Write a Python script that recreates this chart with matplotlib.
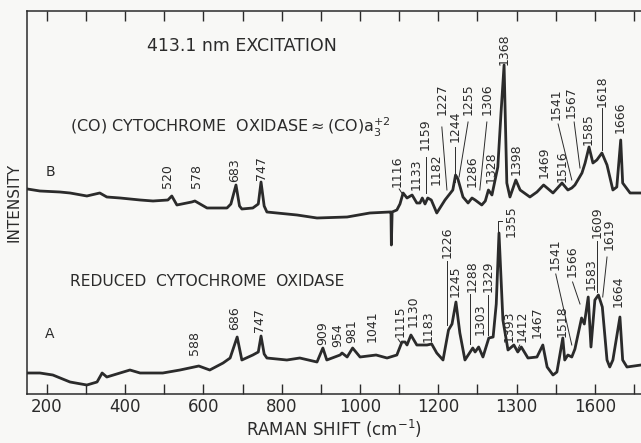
import matplotlib.pyplot as plt

# -----------------------------
# Spectrum B: (CO) cytochrome oxidase
# -----------------------------
shift_b = [150, 182, 233, 259, 302, 335, 353, 387, 438, 471, 509, 519, 532, 570,
           578, 609, 660, 670, 683, 692, 698, 726, 740, 747, 755, 762, 839, 890,
           967, 1025, 1076, 1079, 1080, 1082, 1094, 1102, 1110, 1120, 1133, 1145,
           1153, 1159, 1166, 1173, 1182, 1196, 1217, 1237, 1244, 1250, 1263, 1276,
           1286, 1294, 1311, 1320, 1328, 1337, 1352, 1360, 1368, 1375, 1383, 1398,
           1409, 1434, 1452, 1469, 1493, 1516, 1531, 1541, 1549, 1567, 1575, 1585,
           1595, 1605, 1618, 1631, 1646, 1656, 1666, 1671, 1690, 1718]
int_b = [205, 203, 202, 201, 198, 201, 197, 196, 194, 193, 194, 198, 189, 192,
         193, 186, 186, 190, 209, 188, 185, 186, 190, 212, 188, 182, 179, 176,
         177, 181, 182, 182, 149, 182, 184, 190, 201, 196, 199, 191,
         191, 196, 190, 196, 194, 181, 194, 204, 219, 215, 197, 191,
         196, 194, 189, 193, 204, 199, 227, 280, 329, 211, 197, 214,
         204, 197, 202, 209, 201, 211, 204, 206, 209, 221, 231, 247,
         231, 234, 241, 229, 204, 207, 254, 211, 201, 201]

# -----------------------------
# Spectrum A: reduced cytochrome oxidase
# -----------------------------
shift_a = [150, 182, 215, 259, 302, 328, 341, 353, 412, 438, 496, 540, 588, 616,
           650, 668, 686, 698, 726, 740, 747, 755, 762, 813, 846, 890, 905, 915,
           949, 954, 967, 981, 1000, 1041, 1069, 1094, 1107, 1115, 1120, 1130,
           1145, 1171, 1183, 1196, 1212, 1226, 1235, 1245, 1255, 1268, 1288, 1294,
           1303, 1314, 1329, 1340, 1348, 1355, 1365, 1378, 1393, 1403, 1412, 1429,
           1452, 1467, 1478, 1493, 1503, 1518, 1523, 1531, 1541, 1549, 1566, 1573,
           1583, 1590, 1600, 1609, 1619, 1631, 1638, 1646, 1664, 1671, 1682, 1718]
int_a = [21, 21, 19, 12, 9, 12, 21, 17, 24, 21, 21, 24, 28, 24,
         31, 36, 57, 34, 39, 42, 58, 40, 36, 34, 36, 32, 46, 34,
         39, 41, 37, 46, 37, 39, 36, 39, 52, 52, 49, 59,
         49, 49, 50, 41, 34, 64, 70, 92, 61, 34, 46, 42,
         47, 37, 56, 57, 90, 161, 74, 44, 49, 42, 47, 36,
         37, 49, 27, 19, 22, 56, 34, 39, 37, 45, 76, 70,
         97, 47, 94, 99, 87, 34, 27, 34, 77, 34, 27, 29]

# peak labels
labels_b = ["520", "578", "683", "747", "1116", "1133", "1159", "1182", "1227",
            "1244", "1255", "1286", "1306", "1328", "1368", "1398", "1469",
            "1516", "1541", "1567", "1585", "1618", "1666"]
labels_a = ["588", "686", "747", "909", "954", "981", "1041", "1115", "1130",
            "1183", "1226", "1245", "1288", "1303", "1329", "1355", "1393",
            "1412", "1467", "1518", "1541", "1566", "1583", "1609", "1619", "1664"]

tick_vals = [200, 400, 600, 800, 1000, 1200, 1400, 1600]
tick_text = ["200", "400", "600", "800", "1000", "1200", "1300", "1600"]

# label placement (x, bottom of text) and leader lines
pos_b = [(509, 206), (583, 206), (680, 212), (749, 214), (1094, 207), (1143, 204),
         (1166, 244), (1194, 209), (1209, 279), (1242, 252), (1276, 279),
         (1286, 207), (1324, 279), (1334, 211), (1368, 329), (1398, 219),
         (1470, 216), (1516, 212), (1500, 274), (1540, 276), (1582, 249),
         (1618, 287), (1664, 261)]
lead_b = [((1100, 205), (1110, 199)), ((1168, 237), (1168, 201)),
          ((1209, 267), (1222, 204)), ((1242, 247), (1242, 212)),
          ((1276, 272), (1253, 217)), ((1324, 272), (1306, 204)),
          ((1506, 270), (1541, 214)), ((1547, 272), (1562, 226)),
          ((1618, 286), (1618, 244))]

pos_a = [(576, 39), (680, 64), (744, 62), (905, 49), (944, 47), (979, 51),
         (1030, 52), (1102, 57), (1135, 67), (1173, 52), (1222, 136), (1242, 97),
         (1286, 102), (1306, 59), (1327, 102), (1385, 157), (1382, 52),
         (1414, 52), (1453, 56), (1516, 57), (1498, 124), (1541, 117),
         (1590, 104), (1605, 156), (1636, 144), (1659, 87)]
lead_a = [((1097, 55), (1106, 50)), ((1222, 133), (1222, 69)),
          ((1281, 100), (1281, 50)), ((1327, 99), (1327, 59)),
          ((1352, 161), (1352, 173), (1363, 173)),
          ((1408, 49), (1403, 45)), ((1500, 120), (1541, 49)),
          ((1543, 112), (1562, 90)), ((1605, 153), (1605, 102)),
          ((1631, 137), (1620, 97))]

ink = '#2b2b2b'

fig = plt.figure(figsize=(6.41, 4.43), dpi=100, facecolor='#f8f8f6')
ax = fig.add_axes([0.0421, 0.1106, 0.958, 0.8646])
ax.set_facecolor('#f8f8f6')

ax.plot(shift_b, int_b, color=ink, lw=2.0, solid_joinstyle='round')
ax.plot(shift_a, int_a, color=ink, lw=2.0, solid_joinstyle='round')

for txt, (x, y) in zip(labels_b + labels_a, pos_b + pos_a):
    ax.text(x, y, txt, rotation=90, ha='center', va='bottom', fontsize=9, color=ink)
for seg in lead_b + lead_a:
    ax.plot([p[0] for p in seg], [p[1] for p in seg], color=ink, lw=0.7)

ax.text(455, 348, "413.1 nm EXCITATION", fontsize=12.5, color=ink, va='center')
ax.text(259, 267, r"(CO) CYTOCHROME  OXIDASE$\approx$(CO)$\mathrm{a}_3^{+2}$",
        fontsize=11.5, color=ink, va='center')
ax.text(259, 112, "REDUCED  CYTOCHROME  OXIDASE", fontsize=11.2, color=ink, va='center')
ax.text(208, 222, "B", fontsize=10, color=ink, va='center', ha='center')
ax.text(208, 60, "A", fontsize=10, color=ink, va='center', ha='center')

ax.set_xlim(149, 1718)
ax.set_ylim(0, 383)
ax.set_xticks(tick_vals)
ax.set_xticklabels(tick_text, fontsize=12, color=ink)
ax.set_xticks(range(300, 1701, 200), minor=True)
ax.tick_params(which='both', direction='in', length=7, width=1, top=True,
               colors=ink, pad=3)
ax.set_yticks([])
ax.set_xlabel(r"RAMAN SHIFT (cm$^{-1}$)", fontsize=12, color=ink, labelpad=1)
ax.set_ylabel("INTENSITY", fontsize=11, color=ink, labelpad=4)
for side in ['left', 'top', 'bottom']:
    ax.spines[side].set_color(ink)
    ax.spines[side].set_linewidth(1.1)
ax.spines['right'].set_visible(False)

fig.savefig("out.png", dpi=100, facecolor=fig.get_facecolor())
